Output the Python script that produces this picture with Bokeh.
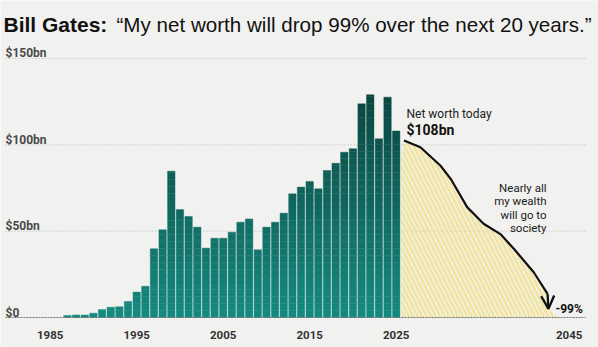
import numpy as np
from bokeh.plotting import figure
from bokeh.models import Range1d, Arrow, OpenHead
from bokeh.core.properties import value
from bokeh.embed import file_html
from bokeh.resources import INLINE

# ---------------- data ----------------
years = list(range(1987, 2026))
net_worth = [1.2, 1.5, 1.5, 2.5, 4.6, 6.0, 6.2, 9.3, 14.7, 18.1,
             39.8, 50.8, 84.7, 62.5, 58.5, 52.3, 40.1, 45.9, 45.9, 49.4,
             55.2, 57.1, 39.2, 52.3, 55.2, 60.4, 71.6, 75.5, 78.8, 74.5,
             85.1, 89.3, 95.7, 97.7, 123.7, 129.0, 103.5, 127.6, 108.0]
proj_years = [2025.9, 2027.8, 2030.1, 2031.3, 2033.2, 2035.1, 2037.1, 2038.6, 2040.9, 2042.5]
proj_values = [102.5, 98.6, 88.0, 80.3, 63.9, 54.3, 48.1, 39.8, 26.2, 13.7]
arrow_end = (2042.6, 5.0)
y_ticks = [0, 50, 100, 150]
y_tick_labels = ["$0", "$50bn", "$100bn", "$150bn"]
x_ticks = [1985, 1995, 2005, 2015, 2025, 2045]
x_tick_labels = ["1985", "1995", "2005", "2015", "2025", "2045"]

# ---------------- layout ----------------
W, H = 598, 347
PX_PER_YEAR = 8.65
PX_PER_BN = 1.727
X0_PX = 395.7   # pixel centre of the 2025 bar
Y0_PX = 317.0   # pixel row of the $0 baseline


def dx(px):
    return 2025 + (px - X0_PX) / PX_PER_YEAR


def dy(py):
    return (Y0_PX - py) / PX_PER_BN


BG = "#f1f1ef"
p = figure(width=W, height=H, x_range=Range1d(dx(0), dx(W)), y_range=Range1d(dy(H), dy(0)),
           output_backend="svg", toolbar_location=None, x_axis_type=None, y_axis_type=None,
           min_border=0)
p.min_border_left = p.min_border_right = p.min_border_top = p.min_border_bottom = 0
p.outline_line_color = None
p.grid.visible = False
p.background_fill_color = BG
p.border_fill_color = BG

# gridlines
p.segment(x0=dx(5), x1=dx(585), y0=y_ticks[1:], y1=y_ticks[1:], line_color="#b9b9b9",
          line_width=1, line_dash="1 2")

# yellow scribble area under projection
patch_x = [years[-1] + 0.6] + proj_years + [arrow_end[0], arrow_end[0] + 1.2, years[-1] + 0.6]
patch_y = [proj_values[0] - 10] + proj_values + [arrow_end[1], 0, 0]
p.patch(patch_x, patch_y, fill_color="#f6efc4", fill_alpha=0.25, line_color=None,
        hatch_pattern="\\", hatch_color="#efdc72", hatch_alpha=0.6, hatch_scale=9, hatch_weight=2.5)

# bars with vertical gradient
c0 = np.array([0x15, 0x8b, 0x80])
c1 = np.array([0x0b, 0x46, 0x41])


def grad(v):
    t = min(v / 130.0, 1.0)
    c = (c0 * (1 - t) + c1 * t).astype(int)
    return "#%02x%02x%02x" % tuple(c)


edges = np.arange(0, 135, 4.0)
for lo, hi in zip(edges[:-1], edges[1:]):
    xs = [y for y, v in zip(years, net_worth) if v > lo]
    tops = [min(v, hi) for v in net_worth if v > lo]
    if not xs:
        continue
    col = grad((lo + hi) / 2)
    p.vbar(x=xs, top=tops, bottom=lo, width=0.86, fill_color=col, line_color=col, line_width=0.4)

# baseline
p.segment(x0=dx(5), x1=dx(585), y0=0, y1=0, line_color="#6f6f6f", line_width=1, line_dash="2 1")

# projection line + arrow
p.line(proj_years, proj_values, line_color="#111111", line_width=2.2)
p.add_layout(Arrow(end=OpenHead(size=13, line_width=2.4, line_color="#111111"),
                   x_start=proj_years[-1], y_start=proj_values[-1],
                   x_end=arrow_end[0], y_end=arrow_end[1],
                   line_color="#111111", line_width=2.2))

# axis labels
p.text(x=dx(5), y=y_ticks, text=y_tick_labels, y_offset=-5, text_font=value("Roboto"),
       text_font_size="12px", text_font_style="bold", text_color="#4a4a4a",
       text_baseline="alphabetic", text_align="left")
p.text(x=x_ticks, y=0, text=x_tick_labels, y_offset=17, text_font=value("Roboto"),
       text_font_size="11.5px", text_font_style="bold", text_color="#333333",
       text_baseline="alphabetic", text_align="center")

# title
p.text(x=dx(3), y=dy(24), text=["Bill Gates:"], text_font=value("Liberation Sans"),
       text_font_size="21px", text_font_style="bold", text_color="#111111",
       text_baseline="alphabetic", text_align="left")
p.text(x=dx(116), y=dy(24), text=["\u201cMy net worth will drop 99% over the next 20 years.\u201d"],
       text_font=value("Liberation Sans"), text_font_size="20.6px", text_color="#111111",
       text_baseline="alphabetic", text_align="left")

# annotations
p.text(x=dx(406), y=dy(113), text=["Net worth today"], text_font=value("Roboto"),
       text_font_size="12px", text_color="#222222", text_baseline="alphabetic")
p.text(x=dx(406), y=dy(129.5), text=["$108bn"], text_font=value("Roboto"),
       text_font_size="14px", text_font_style="bold", text_color="#111111",
       text_baseline="alphabetic")
p.text(x=dx(546), y=[dy(187), dy(200.5), dy(214), dy(227.5)],
       text=["Nearly all", "my wealth", "will go to", "society"], text_font=value("Roboto"),
       text_font_size="11.5px", text_color="#222222", text_baseline="alphabetic",
       text_align="right")
p.text(x=dx(555), y=dy(308.5), text=["-99%"], text_font=value("Roboto"),
       text_font_size="12px", text_font_style="bold", text_color="#111111",
       text_baseline="alphabetic")

open("out.html", "w").write(file_html(p, INLINE))
